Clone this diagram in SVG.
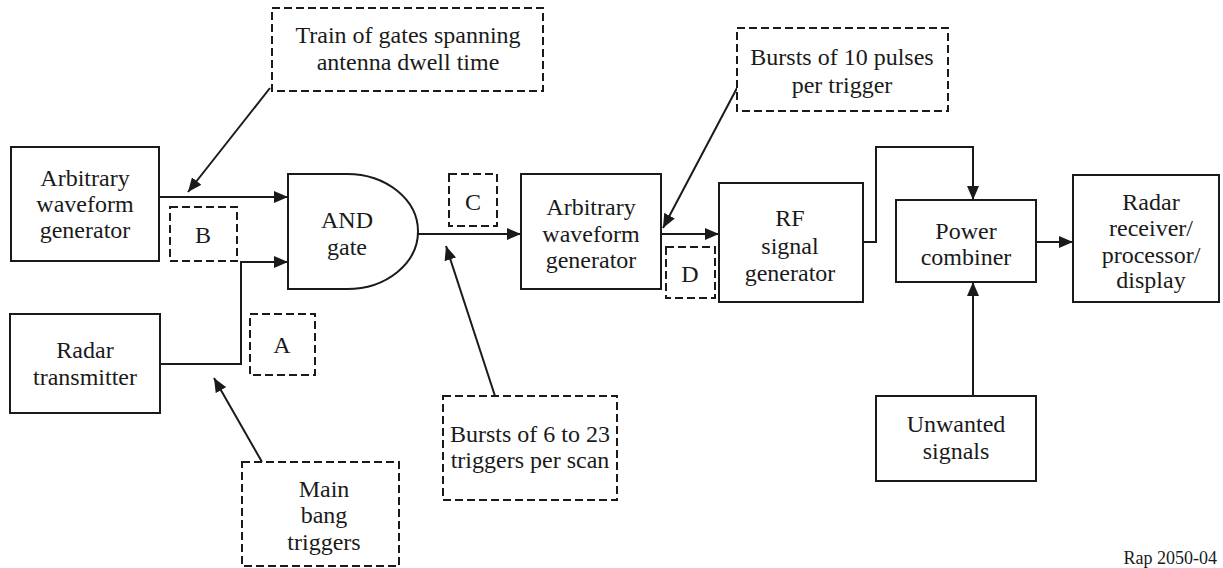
<svg xmlns="http://www.w3.org/2000/svg" width="1223" height="568" viewBox="0 0 1223 568">
<style>
.box{fill:#fff;stroke:#1a1a1a;stroke-width:2}
.dash{fill:#fff;stroke:#1a1a1a;stroke-width:2;stroke-dasharray:8,4}
.c{fill:none;stroke:#1a1a1a;stroke-width:2}
</style>
<defs>
<marker id="ah" markerUnits="userSpaceOnUse" markerWidth="14" markerHeight="12" refX="14" refY="6" orient="auto">
<path d="M0,0 L14,6 L0,12 z" fill="#1a1a1a"/>
</marker>
</defs>
<rect width="1223" height="568" fill="#fff"/>
<g id="connectors">
<path class="c" d="M159,197 H288" marker-end="url(#ah)"/>
<path class="c" d="M160,364 H241 V262 H288" marker-end="url(#ah)"/>
<path class="c" d="M418,234 H521" marker-end="url(#ah)"/>
<path class="c" d="M661,234 H719" marker-end="url(#ah)"/>
<path class="c" d="M863,242 H876 V147 H973 V200" marker-end="url(#ah)"/>
<path class="c" d="M1036,242 H1073" marker-end="url(#ah)"/>
<path class="c" d="M973,396 V282" marker-end="url(#ah)"/>
<path class="c" d="M270,88 L188,192" marker-end="url(#ah)"/>
<path class="c" d="M737,88 L663,228" marker-end="url(#ah)"/>
<path class="c" d="M495,396 L446,246" marker-end="url(#ah)"/>
<path class="c" d="M262,462 L214,378" marker-end="url(#ah)"/>
</g>
<g font-family="Liberation Serif, serif" font-size="24" text-anchor="middle" fill="#1a1a1a">
<g id="awg1">
<rect class="box" x="11" y="147" width="148" height="114"/>
<text x="85" y="186">Arbitrary</text>
<text x="85" y="212">waveform</text>
<text x="85" y="238">generator</text>
</g>
<g id="radar-tx">
<rect class="box" x="10" y="314" width="150" height="99"/>
<text x="85" y="358">Radar</text>
<text x="85" y="385">transmitter</text>
</g>
<g id="and-gate">
<path class="box" d="M288,174 H347 A71,57.5 0 0 1 347,289 H288 Z"/>
<text x="347" y="228">AND</text>
<text x="347" y="255">gate</text>
</g>
<g id="awg2">
<rect class="box" x="521" y="174" width="140" height="115"/>
<text x="591" y="215">Arbitrary</text>
<text x="591" y="242">waveform</text>
<text x="591" y="268">generator</text>
</g>
<g id="rf-gen">
<rect class="box" x="719" y="183" width="144" height="119"/>
<text x="790" y="226">RF</text>
<text x="790" y="254">signal</text>
<text x="790" y="281">generator</text>
</g>
<g id="power-combiner">
<rect class="box" x="896" y="200" width="140" height="82"/>
<text x="966" y="239">Power</text>
<text x="966" y="265">combiner</text>
</g>
<g id="radar-rx">
<rect class="box" x="1073" y="175" width="146" height="127"/>
<text x="1151" y="210">Radar</text>
<text x="1151" y="236">receiver/</text>
<text x="1151" y="263">processor/</text>
<text x="1151" y="288">display</text>
</g>
<g id="unwanted">
<rect class="box" x="876" y="396" width="160" height="85"/>
<text x="956" y="432">Unwanted</text>
<text x="956" y="459">signals</text>
</g>
<g id="note-train">
<rect class="dash" x="272" y="8" width="271" height="83"/>
<text x="408" y="43">Train of gates spanning</text>
<text x="408" y="70">antenna dwell time</text>
</g>
<g id="note-b">
<rect class="dash" x="170" y="207" width="67" height="54"/>
<text x="203" y="243">B</text>
</g>
<g id="note-a">
<rect class="dash" x="250" y="314" width="65" height="61"/>
<text x="282" y="353">A</text>
</g>
<g id="note-c">
<rect class="dash" x="449" y="174" width="48" height="52"/>
<text x="473" y="210">C</text>
</g>
<g id="note-d">
<rect class="dash" x="666" y="247" width="49" height="51"/>
<text x="690" y="282">D</text>
</g>
<g id="note-bursts10">
<rect class="dash" x="737" y="28" width="211" height="83"/>
<text x="842" y="65">Bursts of 10 pulses</text>
<text x="842" y="93">per trigger</text>
</g>
<g id="note-bursts6">
<rect class="dash" x="443" y="396" width="174" height="104"/>
<text x="530" y="442">Bursts of 6 to 23</text>
<text x="530" y="468">triggers per scan</text>
</g>
<g id="note-mainbang">
<rect class="dash" x="242" y="462" width="157" height="104"/>
<text x="324" y="497">Main</text>
<text x="324" y="523">bang</text>
<text x="324" y="550">triggers</text>
</g>
<text x="1217" y="564" font-size="18" text-anchor="end">Rap 2050-04</text>
</g>
</svg>
